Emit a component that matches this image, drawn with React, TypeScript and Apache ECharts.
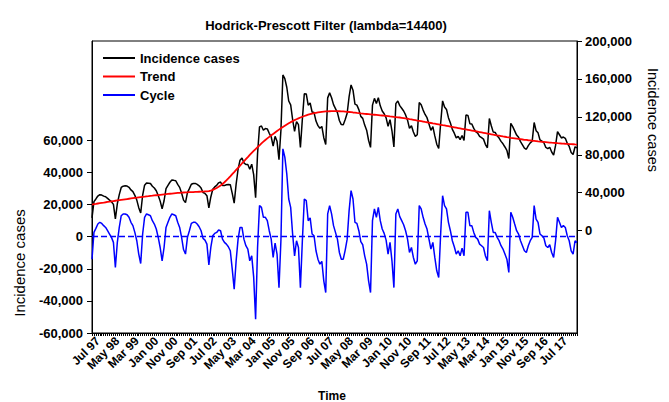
import React, { useEffect, useRef } from "react";
import * as echarts from "echarts";

// Monthly observations, first month = Apr 1997
const START_YEAR = 1997;
const START_MONTH = 3; // April (0-based)
const MONTH_ABBR = ["Jan", "Feb", "Mar", "Apr", "May", "Jun", "Jul", "Aug", "Sep", "Oct", "Nov", "Dec"];

// Incidence cases (right axis)
const incidence = [
  13500, 30600, 33400, 36500, 37900, 37500, 36400, 35700, 33950, 32200, 30500, 27700,
  12300, 28300, 37900, 45500, 46900, 47200, 47000, 45700, 42900, 41100, 37200, 32200,
  24200, 18600, 37300, 47900, 50300, 50000, 49700, 46800, 45000, 42100, 37100, 31100,
  23000, 31500, 44200, 47700, 51000, 53300, 53000, 52600, 48700, 45600, 39600, 32200,
  29500, 40000, 44250, 48900, 49700, 49800, 48800, 47250, 44850, 40200, 39200, 36800,
  24100, 35500, 43600, 46100, 47700, 50400, 51250, 47700, 47500, 48400, 48750, 48450,
  39300, 29000, 49000, 64700, 74300, 76600, 71500, 69700, 69800, 64800, 70100, 59000,
  34600, 81300, 109400, 110300, 105900, 107700, 107300, 102650, 99000, 89100, 99500, 94200,
  74800, 106000, 164200, 160300, 151200, 136700, 132700, 117200, 104600, 115000, 111700, 87600,
  117600, 144400, 144100, 132300, 134600, 125100, 124500, 115550, 110700, 107900, 109900, 98000,
  90900, 140000, 145300, 140200, 132900, 128700, 124500, 116100, 111800, 111700, 117200, 123800,
  141350, 153650, 148100, 133400, 132400, 127650, 120500, 118400, 111300, 105900, 95300, 87800,
  132400, 139500, 134100, 140100, 131600, 126200, 123300, 118900, 110000, 117000, 105300, 88300,
  134000, 136800, 131800, 129000, 126200, 122050, 116500, 107800, 110600, 104000, 99400, 101100,
  135200, 132700, 127100, 122500, 119100, 112400, 105800, 109600, 99900, 91150, 86600, 113300,
  136800, 130300, 127800, 119100, 113450, 106800, 102750, 97800, 99450, 95900, 100300, 95100,
  121900, 121500, 112800, 112400, 107800, 104400, 102900, 99400, 98000, 96500, 90800, 87400,
  118250, 110600, 103900, 103500, 100000, 97600, 94100, 91600, 88200, 84600, 76000, 113100,
  109700, 105200, 100750, 98400, 93900, 90500, 87050, 85800, 89700, 92600, 94400, 114000,
  105400, 103100, 95600, 94300, 92700, 87700, 86400, 87900, 82900, 79700, 89900, 104300,
  101100, 97700, 98700, 97400, 92100, 88800, 82450, 80300, 88400, 87300,
];

// HP trend (right axis)
const trend = [
  27500, 27900, 28200, 28600, 28900, 29200, 29500, 29900, 30200, 30500, 30900, 31200,
  31500, 31800, 32100, 32400, 32700, 33000, 33300, 33600, 33900, 34200, 34500, 34700,
  35000, 35300, 35600, 35800, 36100, 36300, 36600, 36800, 37100, 37300, 37500, 37800,
  38000, 38200, 38400, 38700, 38900, 39100, 39300, 39500, 39700, 39800, 40000, 40200,
  40300, 40400, 40500, 40600, 40700, 40800, 40900, 41000, 41100, 41200, 41300, 41400,
  41600, 42200, 43000, 44000, 45000, 46200, 47500, 49200, 51000, 53000, 55000, 57200,
  59500, 61700, 64000, 66200, 68500, 70800, 73000, 75300, 77500, 79800, 82000, 84000,
  86000, 88000, 90000, 92000, 93800, 95600, 97300, 98900, 100500, 102000, 103500, 105000,
  106500, 108000, 109400, 110700, 112000, 113200, 114400, 115500, 116500, 117500, 118400, 119300,
  120100, 120900, 121600, 122300, 122900, 123400, 123900, 124300, 124700, 125000, 125300, 125500,
  125700, 125800, 125900, 126000, 126000, 126000, 126000, 125900, 125800, 125700, 125500, 125300,
  125100, 124900, 124600, 124400, 124100, 123900, 123600, 123400, 123200, 123000, 122800, 122600,
  122400, 122200, 122000, 121800, 121600, 121400, 121200, 121000, 120800, 120500, 120300, 120000,
  119800, 119500, 119300, 119000, 118700, 118300, 118000, 117600, 117300, 116900, 116500, 116100,
  115800, 115400, 115000, 114600, 114300, 113900, 113500, 113100, 112800, 112400, 112000, 111600,
  111200, 110900, 110500, 110100, 109700, 109300, 109000, 108600, 108200, 107800, 107400, 107000,
  106700, 106300, 105900, 105500, 105100, 104800, 104400, 104000, 103600, 103200, 102800, 102400,
  102000, 101600, 101200, 100800, 100400, 100100, 99700, 99300, 99000, 98600, 98300, 97900,
  97600, 97300, 97000, 96700, 96400, 96100, 95800, 95600, 95300, 95100, 94800, 94600,
  94400, 94100, 93900, 93700, 93500, 93300, 93100, 92900, 92700, 92600, 92400, 92200,
  92100, 91900, 91800, 91600, 91500, 91300, 91200, 91100, 90900, 90800,
];

// HP cycle (left axis)
const cycle = [
  -14000, 2700, 5200, 7900, 9000, 8300, 6900, 5800, 3750, 1700, -400, -3500,
  -19200, -3500, 5800, 13100, 14200, 14200, 13700, 12100, 9000, 6900, 2700, -2500,
  -10800, -16700, 1700, 12100, 14200, 13700, 13100, 10000, 7900, 4800, -400, -6700,
  -15000, -6700, 5800, 9000, 12100, 14200, 13700, 13100, 9000, 5800, -400, -8000,
  -10800, -400, 3750, 8300, 9000, 9000, 7900, 6250, 3750, -1000, -2100, -4600,
  -17500, -6700, 600, 2100, 2700, 4200, 3750, -1500, -3500, -4600, -6250, -8750,
  -20200, -32700, -15000, -1500, 5800, 5800, -1500, -5600, -7700, -15000, -11900, -25000,
  -51400, -6700, 19400, 18300, 12100, 12100, 10000, 3750, -1500, -12900, -4000, -10800,
  -31700, -2000, 54800, 49600, 39200, 23500, 18300, 1700, -11900, -2500, -6700, -31700,
  -2500, 23500, 22500, 10000, 11700, 1700, 600, -8750, -14000, -17100, -15400, -27500,
  -34800, 14200, 19400, 14200, 6900, 2700, -1500, -9800, -14000, -14000, -8300, -1500,
  16250, 28750, 23500, 9000, 8300, 3750, -3100, -5000, -11900, -17100, -27500, -34800,
  10000, 17300, 12100, 18300, 10000, 4800, 2100, -2100, -10800, -3500, -15000, -31700,
  14200, 17300, 12500, 10000, 7500, 3750, -1500, -9800, -6700, -12900, -17100, -15000,
  19400, 17300, 12100, 7900, 4800, -1500, -7700, -3500, -12900, -21250, -25400, 1700,
  25600, 19400, 17300, 9000, 3750, -2500, -6250, -10800, -8750, -11900, -7100, -11900,
  15200, 15200, 6900, 6900, 2700, -400, -1500, -4600, -5600, -6700, -12000, -15000,
  16250, 9000, 2700, 2700, -400, -2500, -5600, -7700, -10800, -14000, -22300, 15200,
  12100, 7900, 3750, 1700, -2500, -5600, -8750, -9800, -5600, -2500, -400, 19400,
  11000, 9000, 1700, 600, -800, -5600, -6700, -5000, -9800, -12900, -2500, 12100,
  9000, 5800, 6900, 5800, 600, -2500, -8750, -10800, -2500, -3500,
];

const leftTicks = [-60000, -40000, -20000, 0, 20000, 40000, 60000];
const rightTicks = [0, 40000, 80000, 120000, 160000, 200000];

const categories: string[] = incidence.map((_, i) => {
  const m = START_MONTH + i;
  const y = START_YEAR + Math.floor(m / 12);
  return MONTH_ABBR[m % 12] + " " + String(y % 100).padStart(2, "0");
});

const FONT = '"Liberation Sans", Arial, Helvetica, sans-serif';
const fmt = (v: number) => Math.round(v).toLocaleString("en-US");

export default function App() {
  const ref = useRef<HTMLDivElement>(null);
  useEffect(() => {
    if (!ref.current) return;
    const chart = echarts.init(ref.current, undefined, { renderer: "svg" });
    chart.setOption({
      animation: false,
      backgroundColor: "#ffffff",
      textStyle: { fontFamily: FONT },
      grid: {
        left: 92,
        right: 92,
        top: 41,
        bottom: 69,
        containLabel: false,
        outerBoundsMode: "none",
        show: true,
        borderColor: "#000",
        borderWidth: 1,
        backgroundColor: "transparent",
      },
      legend: {
        show: true,
        orient: "vertical",
        left: 103,
        top: 51.5,
        padding: 0,
        icon: "rect",
        itemWidth: 32,
        itemHeight: 2,
        itemGap: 5.5,
        textStyle: { fontFamily: FONT, fontSize: 13, fontWeight: "bold", color: "#000" },
        data: ["Incidence cases", "Trend", "Cycle"],
      },
      graphic: [
        {
          type: "text",
          x: 326,
          y: 25,
          style: {
            text: "Hodrick-Prescott Filter (lambda=14400)",
            fontFamily: FONT,
            fontSize: 13,
            fontWeight: "bold",
            fill: "#000",
            align: "center",
            verticalAlign: "middle",
          },
        },
        {
          type: "text",
          x: 19,
          y: 263,
          rotation: Math.PI / 2,
          style: {
            text: "Incidence cases",
            fontFamily: FONT,
            fontSize: 15,
            fill: "#000",
            align: "center",
            verticalAlign: "middle",
          },
        },
        {
          type: "text",
          x: 653,
          y: 120,
          rotation: -Math.PI / 2,
          style: {
            text: "Incidence cases",
            fontFamily: FONT,
            fontSize: 14.5,
            fill: "#000",
            align: "center",
            verticalAlign: "middle",
          },
        },
        {
          type: "text",
          x: 332,
          y: 396,
          style: {
            text: "Time",
            fontFamily: FONT,
            fontSize: 12,
            fontWeight: "bold",
            fill: "#000",
            align: "center",
            verticalAlign: "middle",
          },
        },
      ],
      xAxis: {
        type: "category",
        data: categories,
        boundaryGap: false,
        axisLine: { show: true, onZero: false, lineStyle: { color: "#000", width: 1 } },
        axisTick: { show: true, interval: 0, length: 3, inside: false, lineStyle: { color: "#000", width: 1 } },
        axisLabel: {
          interval: (index: number) => index >= 3 && (index - 3) % 10 === 0,
          rotate: 45,
          margin: 6,
          fontFamily: FONT,
          fontSize: 12,
          fontWeight: "bold",
          color: "#000",
        },
        splitLine: { show: false },
      },
      yAxis: [
        {
          type: "value",
          position: "left",
          min: -60000,
          max: 122000,
          axisLine: { show: true, onZero: false, lineStyle: { color: "#000", width: 1 } },
          axisTick: { show: true, length: 5, inside: false, customValues: leftTicks, lineStyle: { color: "#000" } },
          axisLabel: {
            customValues: leftTicks,
            formatter: (v: number) => fmt(v),
            margin: 9,
            fontFamily: FONT,
            fontSize: 13,
            fontWeight: "bold",
            color: "#000",
          },
          splitLine: { show: false },
        },
        {
          type: "value",
          position: "right",
          min: -108000,
          max: 200000,
          axisLine: { show: true, onZero: false, lineStyle: { color: "#000", width: 1 } },
          axisTick: { show: true, length: 5, inside: false, customValues: rightTicks, lineStyle: { color: "#000" } },
          axisLabel: {
            customValues: rightTicks,
            formatter: (v: number) => fmt(v),
            margin: 8,
            fontFamily: FONT,
            fontSize: 13,
            fontWeight: "bold",
            color: "#000",
          },
          splitLine: { show: false },
        },
      ],
      series: [
        {
          name: "Incidence cases",
          type: "line",
          yAxisIndex: 1,
          data: incidence,
          symbol: "none",
          lineStyle: { color: "#000000", width: 1.5 },
          itemStyle: { color: "#000000" },
          z: 2,
        },
        {
          name: "Trend",
          type: "line",
          yAxisIndex: 1,
          data: trend,
          symbol: "none",
          lineStyle: { color: "#ff0000", width: 1.8 },
          itemStyle: { color: "#ff0000" },
          z: 3,
        },
        {
          name: "Cycle",
          type: "line",
          yAxisIndex: 0,
          data: cycle,
          symbol: "none",
          lineStyle: { color: "#0000ff", width: 1.5 },
          itemStyle: { color: "#0000ff" },
          z: 2,
          markLine: {
            silent: true,
            symbol: ["none", "none"],
            label: { show: false },
            lineStyle: { color: "#0000ff", type: [6, 3], width: 1.3 },
            data: [{ yAxis: 0 }],
          },
        },
      ],
    });
    return () => chart.dispose();
  }, []);
  return (
    <div
      ref={ref}
      style={{ position: "fixed", left: 0, top: 0, width: 669, height: 402, background: "#fff" }}
    />
  );
}
